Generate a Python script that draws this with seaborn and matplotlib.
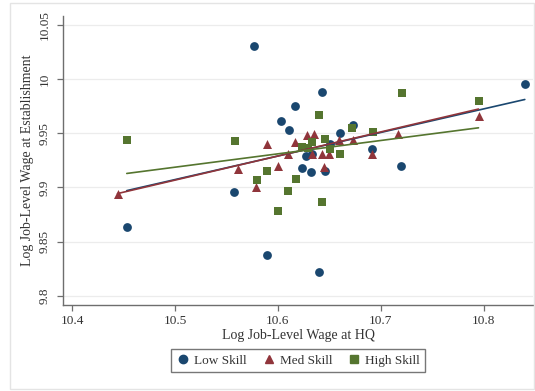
import numpy as np
import pandas as pd
import seaborn as sns
import matplotlib.pyplot as plt
from matplotlib.lines import Line2D
from matplotlib.patches import Rectangle

# Job-level log wages: headquarters (x) vs. establishment (y), by skill group
low_hq = [10.453, 10.557, 10.577, 10.589, 10.603, 10.611, 10.617, 10.623, 10.627, 10.633,
          10.632, 10.640, 10.643, 10.646, 10.651, 10.660, 10.673, 10.691, 10.720, 10.840]
low_est = [9.864, 9.896, 10.030, 9.838, 9.961, 9.953, 9.975, 9.918, 9.929, 9.931,
           9.914, 9.822, 9.988, 9.915, 9.940, 9.950, 9.958, 9.935, 9.920, 9.995]

med_hq = [10.444, 10.561, 10.579, 10.589, 10.600, 10.610, 10.617, 10.628, 10.635, 10.633,
          10.643, 10.650, 10.645, 10.659, 10.673, 10.691, 10.717, 10.795]
med_est = [9.894, 9.917, 9.900, 9.940, 9.920, 9.931, 9.942, 9.948, 9.949, 9.931,
           9.931, 9.931, 9.919, 9.944, 9.944, 9.931, 9.949, 9.966]

high_hq = [10.453, 10.558, 10.580, 10.589, 10.600, 10.610, 10.618, 10.623, 10.629, 10.633,
           10.640, 10.643, 10.646, 10.651, 10.660, 10.672, 10.692, 10.721, 10.795]
high_est = [9.944, 9.943, 9.907, 9.915, 9.878, 9.897, 9.908, 9.937, 9.936, 9.942,
            9.967, 9.887, 9.945, 9.935, 9.931, 9.955, 9.951, 9.987, 9.980]

groups = ["Low Skill", "Med Skill", "High Skill"]
# Weighted linear fits per group: value at HQ wage 10.6 and slope
fit_at_10_6 = [9.929, 9.929, 9.931]
fit_slope = [0.217, 0.222, 0.123]

x_ticks = [10.4, 10.5, 10.6, 10.7, 10.8]
y_ticks = [9.8, 9.85, 9.9, 9.95, 10.0, 10.05]
y_tick_labels = ["9.8", "9.85", "9.9", "9.95", "10", "10.05"]

df = pd.concat([
    pd.DataFrame({"hq": low_hq, "est": low_est, "group": groups[0]}),
    pd.DataFrame({"hq": med_hq, "est": med_est, "group": groups[1]}),
    pd.DataFrame({"hq": high_hq, "est": high_est, "group": groups[2]}),
], ignore_index=True)

colors = {"Low Skill": "#1a476f", "Med Skill": "#90353b", "High Skill": "#55752f"}
markers = {"Low Skill": "o", "Med Skill": "^", "High Skill": "s"}
sizes = {"Low Skill": 40, "Med Skill": 42, "High Skill": 38}

sns.set_style("white")
plt.rcParams["font.family"] = ["Liberation Serif", "DejaVu Serif"]

fig = plt.figure(figsize=(5.35, 3.91), dpi=100, facecolor="white")
fig.patches.append(Rectangle((0.018, 0.004), 0.98, 0.988, transform=fig.transFigure,
                             fill=False, edgecolor="#e4e4e4", linewidth=1.0))
ax = fig.add_axes([0.1178, 0.220, 0.8785, 0.739])

for g in groups:
    sub = df[df["group"] == g]
    sns.scatterplot(data=sub, x="hq", y="est", ax=ax, color=colors[g],
                    marker=markers[g], s=sizes[g], linewidth=0, zorder=3, legend=False)

# Fitted lines spanning each group's observed HQ wage range
for g, y0, b in zip(groups, fit_at_10_6, fit_slope):
    sub = df[df["group"] == g]
    xs = np.array([sub["hq"].min(), sub["hq"].max()])
    fit = pd.DataFrame({"hq": xs, "est": y0 + b * (xs - 10.6)})
    sns.lineplot(data=fit, x="hq", y="est", ax=ax, color=colors[g], linewidth=1.2,
                 zorder=4, legend=False)

ax.set_xlim(10.391, 10.848)
ax.set_ylim(9.7917, 10.058)
ax.set_xticks(x_ticks)
ax.set_xticklabels([f"{v:g}" for v in x_ticks])
ax.set_yticks(y_ticks)
ax.set_yticklabels(y_tick_labels, rotation=90, va="center")
ax.grid(axis="y", color="#ececec", linewidth=0.9)
ax.set_axisbelow(True)
for side in ["top", "right"]:
    ax.spines[side].set_visible(False)
for side in ["left", "bottom"]:
    ax.spines[side].set_color("#6e6e6e")
    ax.spines[side].set_linewidth(1.0)
ax.tick_params(axis="both", which="major", direction="out", length=4, width=0.9,
               color="#6e6e6e", labelsize=9.5, labelcolor="#333333", pad=3)
ax.tick_params(axis="y", left=True, pad=5)
ax.tick_params(axis="x", bottom=True)

ax.set_xlabel("Log Job-Level Wage at HQ", fontsize=10, color="#333333", labelpad=2)
ax.set_ylabel("Log Job-Level Wage at Establishment", fontsize=10, color="#333333", labelpad=3)

handles = [Line2D([], [], linestyle="none", marker=markers[g], color=colors[g],
                  markersize=6.0 if g != "High Skill" else 5.6) for g in groups]
leg = fig.legend(handles, groups, loc="center", bbox_to_anchor=(0.557, 0.077), ncol=3,
                 frameon=True, fancybox=False, fontsize=9.5, handletextpad=0.3,
                 columnspacing=1.1, borderpad=0.4, handlelength=1.1)
leg.get_frame().set_edgecolor("#555555")
leg.get_frame().set_linewidth(1.0)
for t in leg.get_texts():
    t.set_color("#333333")

fig.savefig("out.png", dpi=100, facecolor="white")
